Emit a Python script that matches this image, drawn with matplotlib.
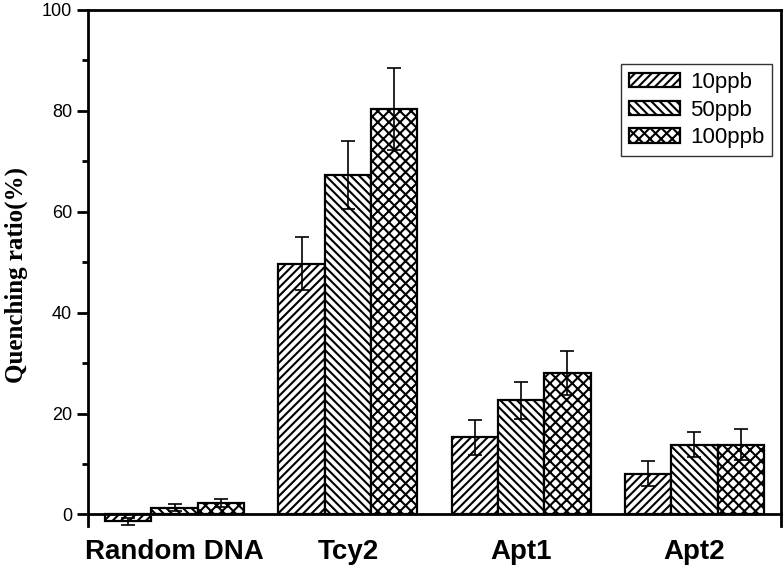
import numpy as np
import matplotlib
matplotlib.use("Agg")
import matplotlib.pyplot as plt
from matplotlib.ticker import MultipleLocator

# data
groups = ['Random DNA', 'Tcy2', 'Apt1', 'Apt2']
conc = ['10ppb', '50ppb', '100ppb']
q10 = [-1.4, 49.7, 15.3, 8.1]
q50 = [1.35, 67.3, 22.6, 13.8]
q100 = [2.3, 80.4, 28.0, 13.8]
e10 = [0.7, 5.3, 3.5, 2.5]
e50 = [0.75, 6.8, 3.7, 2.5]
e100 = [0.8, 8.2, 4.3, 3.1]

hatches = ['////', '\\\\\\\\', 'xxx']

plt.rcParams['hatch.linewidth'] = 1.5
plt.rcParams['font.family'] = 'Liberation Sans'

fig = plt.figure(figsize=(7.84, 5.68), dpi=100)
ax = fig.add_axes([88/784, 1-526/568, 693/784, 516/568])

x = np.arange(1, len(groups)+1)
w = 0.267
vals = [q10, q50, q100]
errs = [e10, e50, e100]
for k in range(3):
    ax.bar(x + (k-1)*w, vals[k], w, yerr=errs[k], color='white', edgecolor='black',
           linewidth=1.6, hatch=hatches[k], label=conc[k],
           error_kw=dict(ecolor='black', elinewidth=1.2, capsize=5, capthick=1.2))

ax.set_xlim(0.5, 4.5)
ax.set_ylim(-2.3, 100)
ax.spines['bottom'].set_position(('data', 0))
for s in ['left', 'right', 'top', 'bottom']:
    ax.spines[s].set_linewidth(2)

ax.set_xticks(x)
ax.set_xticklabels(groups, fontsize=20, fontweight='bold')
ax.tick_params(axis='x', length=0, pad=18)

ax.yaxis.set_major_locator(MultipleLocator(20))
ax.yaxis.set_minor_locator(MultipleLocator(10))
ax.tick_params(axis='y', which='major', direction='out', length=8, width=2, labelsize=13)
ax.tick_params(axis='y', which='minor', direction='out', length=4, width=2)

ax.set_ylabel('Quenching ratio(%)', fontsize=18, fontweight='bold',
              family='Liberation Serif')
ax.yaxis.set_label_coords(-0.087, 0.486)

leg = ax.legend(loc='upper right', bbox_to_anchor=(0.987, 0.895), fontsize=16,
                frameon=True, fancybox=False, edgecolor='black', handlelength=2.3,
                handleheight=0.6, handletextpad=0.45, labelspacing=0.3,
                borderpad=0.35, borderaxespad=0)
leg.get_frame().set_linewidth(1)

fig.savefig('out.png', dpi=100)
